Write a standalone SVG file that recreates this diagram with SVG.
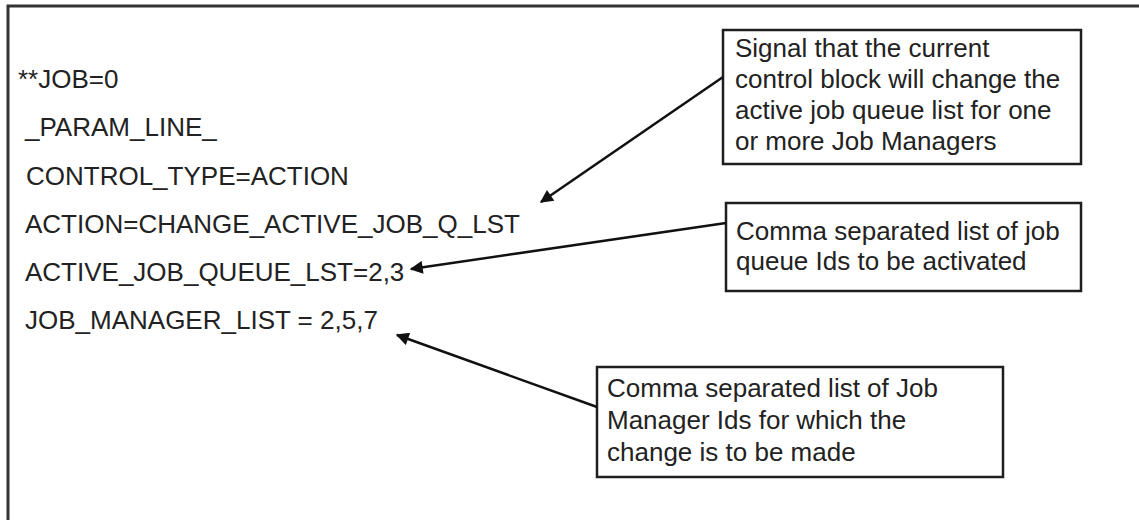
<svg xmlns="http://www.w3.org/2000/svg" width="1139" height="520" viewBox="0 0 1139 520">
  <style>
    .code { font-family: "Liberation Sans", Arial, sans-serif; font-size: 26px; fill: #222; }
    .note { font-family: "Liberation Sans", Arial, sans-serif; font-size: 26px; fill: #222; }
    .box { fill: #fff; stroke: #1e1e1e; stroke-width: 2.5; }
    .frame { fill: #fff; stroke: #333; stroke-width: 3; }
    .link { stroke: #111; stroke-width: 2.5; fill: none; marker-end: url(#head); }
  </style>
  <defs>
    <marker id="head" viewBox="0 0 10 10" refX="9" refY="5" markerWidth="6.5" markerHeight="5.2" markerUnits="strokeWidth" orient="auto">
      <path d="M0,0 L10,5 L0,10 Z" fill="#111"/>
    </marker>
  </defs>

  <rect width="1139" height="520" fill="#fff"/>
  <!-- outer frame, open to the right and bottom -->
  <rect class="frame" x="8" y="6" width="1160" height="540"/>

  <!-- control block listing -->
  <g id="listing">
    <text class="code" x="18" y="88">**JOB=0</text>
    <text class="code" x="25" y="136">_PARAM_LINE_</text>
    <text class="code" x="26" y="185">CONTROL_TYPE=ACTION</text>
    <text class="code" x="25" y="233">ACTION=CHANGE_ACTIVE_JOB_Q_LST</text>
    <text class="code" x="25" y="281">ACTIVE_JOB_QUEUE_LST=2,3</text>
    <text class="code" x="25" y="329">JOB_MANAGER_LIST = 2,5,7</text>
  </g>

  <!-- callout notes -->
  <g id="note-signal">
    <rect class="box" x="723" y="30" width="358" height="134"/>
    <text class="note" x="735" y="57">Signal that the current</text>
    <text class="note" x="735" y="88">control block will change the</text>
    <text class="note" x="735" y="119">active job queue list for one</text>
    <text class="note" x="735" y="150">or more Job Managers</text>
  </g>

  <g id="note-queues">
    <rect class="box" x="726" y="203" width="355" height="88"/>
    <text class="note" x="736" y="240">Comma separated list of job</text>
    <text class="note" x="736" y="270">queue Ids to be activated</text>
  </g>

  <g id="note-managers">
    <rect class="box" x="597" y="367" width="406" height="110"/>
    <text class="note" x="607" y="397">Comma separated list of Job</text>
    <text class="note" x="607" y="429">Manager Ids for which the</text>
    <text class="note" x="607" y="461">change is to be made</text>
  </g>

  <!-- connectors from notes to listing lines -->
  <g id="connectors">
    <line class="link" x1="723" y1="77" x2="541" y2="202"/>
    <line class="link" x1="726" y1="223" x2="411" y2="269"/>
    <line class="link" x1="597" y1="407" x2="397" y2="335"/>
  </g>
</svg>
